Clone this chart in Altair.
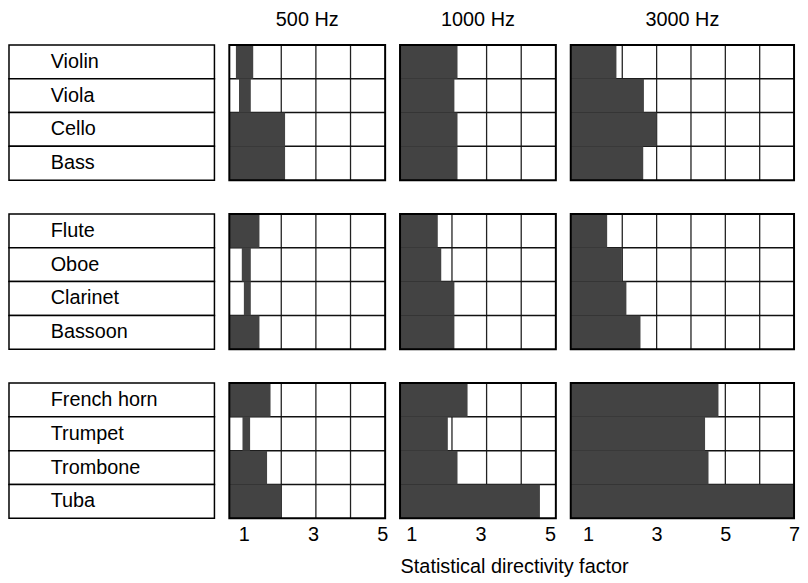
import altair as alt
import pandas as pd

# ---- data -----------------------------------------------------------------
instruments = ["Violin", "Viola", "Cello", "Bass",
               "Flute", "Oboe", "Clarinet", "Bassoon",
               "French horn", "Trumpet", "Trombone", "Tuba"]
rows = [0, 1, 2, 3, 5, 6, 7, 8, 10, 11, 12, 13]      # row slot (blank slots 4 and 9)
group_tops = [0, 5, 10]
freqs = ["500 Hz", "1000 Hz", "3000 Hz"]
x_min = 0.5
x_max = [5, 5, 7]
tick_values = [[1, 3, 5], [1, 3, 5], [1, 3, 5, 7]]

lo_500 = [0.69, 0.78, 0.5, 0.5, 0.5, 0.86, 0.92, 0.5, 0.5, 0.88, 0.5, 0.5]
hi_500 = [1.19, 1.12, 2.11, 2.11, 1.37, 1.12, 1.12, 1.37, 1.69, 1.10, 1.59, 2.0]
lo_1000 = [0.5] * 12
hi_1000 = [2.16, 2.07, 2.16, 2.16, 1.59, 1.69, 2.07, 2.07, 2.45, 1.88, 2.16, 4.54]
lo_3000 = [0.5] * 12
hi_3000 = [1.83, 2.63, 3.0, 2.61, 1.56, 1.99, 2.12, 2.53, 4.80, 4.41, 4.51, 7.0]

lows = [lo_500, lo_1000, lo_3000]
highs = [hi_500, hi_1000, hi_3000]

# ---- style ----------------------------------------------------------------
FONT = "Liberation Sans"
FS = 20
FILL = "#434343"
H = 477
widths = [157, 157, 225]
label_offsets = [-3, -6, 0]

yscale = alt.Scale(domain=[0, 14], reverse=True, nice=False, zero=False)


def Y(field):
    return alt.Y(f"{field}:Q", scale=yscale, axis=None)


def panel(i):
    d = pd.DataFrame({"instrument": instruments, "row": rows,
                      "lo": lows[i], "hi": highs[i]})
    d["row2"] = d["row"] + 1
    xs = alt.Scale(domain=[x_min, x_max[i]], nice=False, zero=False)
    vgrid = pd.DataFrame([{"v": v, "g": g, "g2": g + 4}
                          for g in group_tops for v in range(2, x_max[i])])
    hgrid = pd.DataFrame([{"y": g + k, "a": x_min, "b": x_max[i]}
                          for g in group_tops for k in range(1, 4)])
    box = pd.DataFrame({"g": group_tops, "g2": [g + 4 for g in group_tops],
                        "a": [x_min] * 3, "b": [x_max[i]] * 3})
    axis_kw = dict(values=tick_values[i], ticks=False, tickSize=0, domain=False,
                   grid=False, labelFontSize=FS, labelFont=FONT,
                   labelColor="black", labelPadding=6, labelFlush=False,
                   labelOffset=label_offsets[i])
    if i == 1:
        axis_kw.update(title="Statistical directivity factor", titleFont=FONT,
                       titleFontSize=FS, titleFontWeight="normal",
                       titleColor="black", titleX=115, titleAlign="center",
                       titlePadding=13)
    else:
        axis_kw.update(title=None)
    axis = alt.Axis(**axis_kw)

    def X(field):
        return alt.X(f"{field}:Q", scale=xs, axis=axis)

    grid_v = alt.Chart(vgrid).mark_rule(color="#222222", strokeWidth=1.3).encode(
        x=X("v"), y=Y("g"), y2="g2")
    grid_h = alt.Chart(hgrid).mark_rule(color="#111111", strokeWidth=1.5).encode(
        x=X("a"), x2="b", y=Y("y"))
    bars = alt.Chart(d).mark_rect(color=FILL).encode(
        x=X("lo"), x2="hi", y=Y("row"), y2="row2")
    border = alt.Chart(box).mark_rect(fillOpacity=0, stroke="black",
                                      strokeWidth=2).encode(
        x=X("a"), x2="b", y=Y("g"), y2="g2")
    return alt.layer(grid_v, grid_h, bars, border).properties(
        width=widths[i], height=H,
        title=alt.TitleParams(freqs[i], font=FONT, fontSize=FS,
                              fontWeight="normal", color="black",
                              anchor="middle", offset=14))


lab = pd.DataFrame({"instrument": instruments, "row": rows})
lab["row2"] = lab["row"] + 1
lab["mid"] = lab["row"] + 0.5
lab["a"] = 0.0
lab["b"] = 1.0
lx = alt.Scale(domain=[0, 1], nice=False, zero=False)
boxes = alt.Chart(lab).mark_rect(fill="white", stroke="black",
                                 strokeWidth=1.5).encode(
    x=alt.X("a:Q", scale=lx, axis=None), x2="b", y=Y("row"), y2="row2")
texts = alt.Chart(lab).mark_text(align="left", baseline="middle", fontSize=FS,
                                 font=FONT, color="black", dx=42).encode(
    x=alt.X("a:Q", scale=lx, axis=None), y=Y("mid"), text="instrument:N")
labels = alt.layer(boxes, texts).properties(width=207, height=H)

chart = alt.hconcat(labels, panel(0), panel(1), panel(2),
                    spacing=15, bounds="flush").resolve_scale(
    x="independent").configure_view(strokeWidth=0).properties(
    padding={"left": 0, "top": 0, "right": 0, "bottom": 0},
    background="white")

chart.save("out.html", embed_options={"renderer": "svg", "actions": False})
